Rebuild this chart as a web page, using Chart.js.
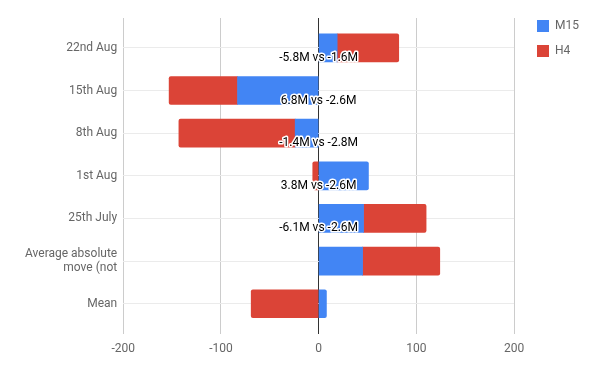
<!DOCTYPE html>
<html>
<head>
<meta charset="utf-8">
<script src="https://cdn.jsdelivr.net/npm/chart.js@4"></script>
<style>
  body { margin: 0; background: #fff; }
  #wrap { width: 600px; height: 371px; }
</style>
</head>
<body>
<div id="wrap"><canvas id="weekChart"></canvas></div>
<script>
// 데이터
const categories = ["22nd Aug", "15th Aug", "8th Aug", "1st Aug", "25th July", ["Average absolute", "move (not"], "Mean"];
const m15 = [19, -83, -24, 51, 46, 45, 8];
const h4 = [63, -70, -119, -6, 64, 79, -69];
const notes = ["-5.8M vs -1.6M", "6.8M vs -2.6M", "-1.4M vs -2.8M", "3.8M vs -2.6M", "-6.1M vs -2.6M", "", ""];
const xTicks = [-200, -100, 0, 100, 200];

Chart.defaults.font.family = "Roboto, 'Noto Sans', sans-serif";
Chart.defaults.font.size = 12;

// 막대 아래 주석 텍스트
const notePlugin = {
  id: "notes",
  afterLayout(chart) {
    // 범례 위치 보정
    chart.legend.left = 524;
    chart.legend.top = 7;
  },
  afterDatasetsDraw(chart) {
    const ctx = chart.ctx;
    const xs = chart.scales.x;
    const ys = chart.scales.y;
    ctx.save();
    ctx.font = "12px Roboto, sans-serif";
    ctx.textAlign = "center";
    ctx.textBaseline = "middle";
    ctx.lineJoin = "round";
    notes.forEach((t, i) => {
      if (!t) return;
      const x = xs.getPixelForValue(0);
      const y = ys.getPixelForValue(i) + 10;
      ctx.strokeStyle = "#fff";
      ctx.lineWidth = 3;
      ctx.strokeText(t, x, y);
      ctx.fillStyle = "#000";
      ctx.fillText(t, x, y);
    });
    ctx.restore();
  },
};

const ctx1 = document.getElementById("weekChart").getContext("2d");
const weekChart = new Chart(ctx1, {
  type: "bar",
  data: {
    datasets: [
      {
        label: "M15",
        data: m15.map((v, i) => ({ x: v, y: i })),
        backgroundColor: "#4285F4",
        borderRadius: 2,
        barThickness: 28,
      },
      {
        label: "H4",
        data: h4.map((v, i) => ({ x: v, y: i })),
        backgroundColor: "#DB4437",
        borderRadius: 2,
        barThickness: 28,
      },
    ],
  },
  options: {
    indexAxis: "y",
    responsive: true,
    maintainAspectRatio: false,
    animation: false,
    layout: { padding: { left: 19, top: 18, bottom: 7, right: 21 } },
    scales: {
      x: {
        stacked: true,
        min: -200,
        max: 200,
        afterBuildTicks: (s) => { s.ticks = xTicks.map((v) => ({ value: v })); },
        grid: {
          color: (c) => (c.tick && c.tick.value === 0 ? "#333" : "#ccc"),
          drawTicks: false,
        },
        border: { display: false },
        ticks: { color: "#666", padding: 8 },
      },
      y: {
        type: "linear",
        stacked: true,
        reverse: true,
        offset: false,
        min: -0.7,
        max: 6.7,
        grid: { color: "#ebebeb", drawTicks: false, offset: false },
        border: { display: false },
        ticks: {
          stepSize: 1,
          includeBounds: false,
          color: "#666",
          padding: 6,
          callback: (v) => categories[v],
        },
      },
    },
    plugins: {
      legend: {
        position: "right",
        align: "start",
        labels: { boxWidth: 12, boxHeight: 12, padding: 13, color: "#666" },
      },
      tooltip: { enabled: false },
    },
  },
  plugins: [notePlugin],
});
</script>
</body>
</html>
